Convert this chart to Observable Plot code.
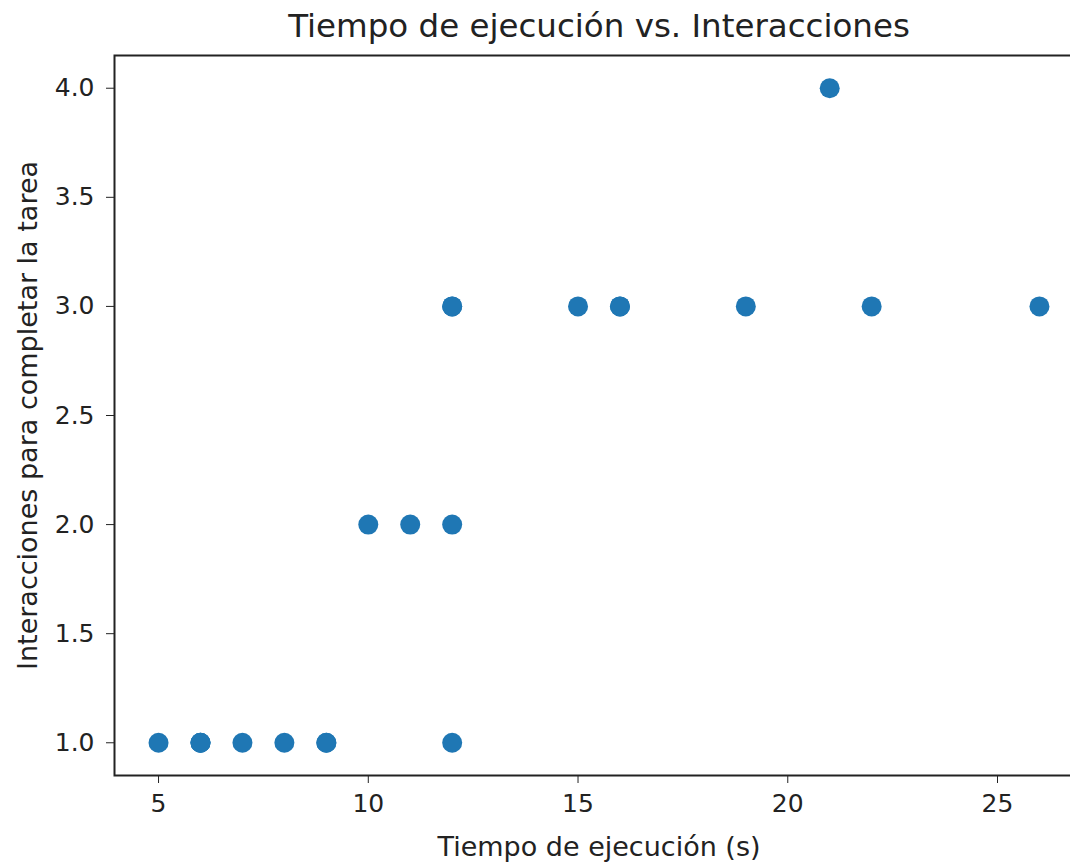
<!DOCTYPE html>
<html>
<head>
<meta charset="utf-8">
<script src="https://cdn.jsdelivr.net/npm/d3@7"></script>
<script src="https://cdn.jsdelivr.net/npm/@observablehq/plot@0.6"></script>
<style>
  html, body { margin: 0; padding: 0; background: #fff; overflow: hidden; }
  #wrap { width: 1070px; height: 862px; overflow: hidden; }
  #wrap svg { max-width: none !important; }
</style>
</head>
<body>
<div id="wrap"></div>
<script>
const tiempo = [5, 6, 6, 6, 7, 8, 9, 9, 10, 11, 12, 12, 12, 12, 15, 16, 16, 19, 21, 22, 26];
const interacciones = [1, 1, 1, 1, 1, 1, 1, 1, 2, 2, 2, 3, 3, 1, 3, 3, 3, 3, 4, 3, 3];
const xTicks = [5, 10, 15, 20, 25];
const yTicks = [1.0, 1.5, 2.0, 2.5, 3.0, 3.5, 4.0];
const title = "Tiempo de ejecución vs. Interacciones";
const xLabel = "Tiempo de ejecución (s)";
const yLabel = "Interacciones para completar la tarea";

const data = tiempo.map((t, i) => ({t, n: interacciones[i]}));
const font = "DejaVu Sans, sans-serif";

const chart = Plot.plot({
  width: 1090,
  height: 862,
  marginTop: 55,
  marginBottom: 87,
  marginLeft: 114,
  marginRight: 7,
  style: {fontFamily: font, background: "#fff", color: "#222", maxWidth: "none"},
  x: {domain: [3.95, 27.05]},
  y: {domain: [0.85, 4.15]},
  marks: [
    Plot.axisX({ticks: xTicks, tickSize: 8, tickPadding: 11, fontSize: 25, tickFormat: d3.format("d"), label: null, stroke: "#222"}),
    Plot.axisX({ticks: [], tickSize: 0, fontSize: 27,
      label: xLabel, labelAnchor: "center", labelArrow: "none", labelOffset: 80}),
    Plot.axisY({ticks: yTicks, tickSize: 8, tickPadding: 12, fontSize: 25, tickFormat: d3.format(".1f"), label: null, stroke: "#222"}),
    Plot.axisY({ticks: [], tickSize: 0, fontSize: 27,
      label: yLabel, labelAnchor: "center", labelArrow: "none", labelOffset: 97}),
    Plot.dot(data, {x: "t", y: "n", r: 10, fill: "#1f77b4", stroke: "none"}),
    Plot.frame({stroke: "#222", strokeWidth: 2}),
    Plot.text([title], {frameAnchor: "top", lineAnchor: "bottom", dy: -19, fontSize: 32.5, fill: "#222", text: d => d})
  ]
});
document.getElementById("wrap").appendChild(chart);
</script>
</body>
</html>
